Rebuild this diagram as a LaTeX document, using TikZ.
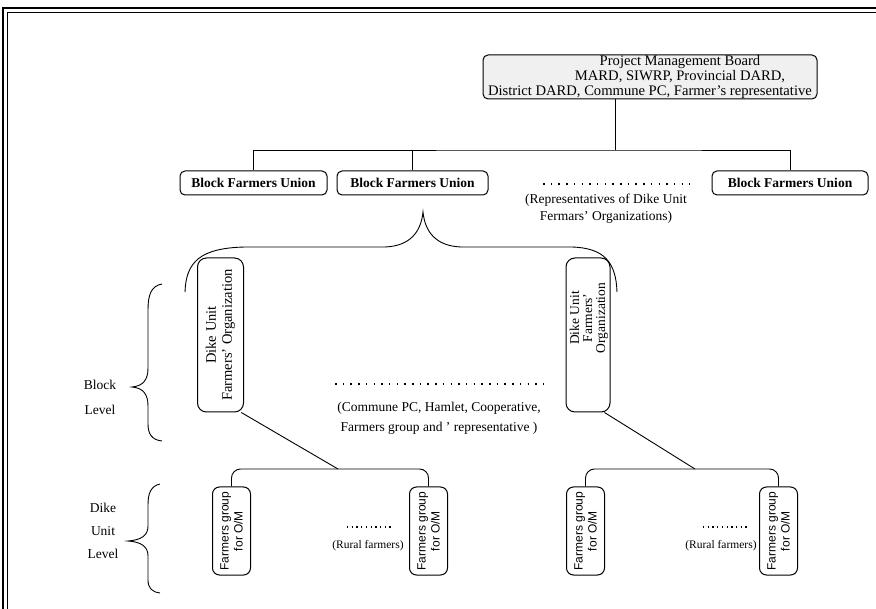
\documentclass[tikz,border=0pt]{standalone}
\usepackage{fontspec}
\setmainfont{Liberation Serif}
\setsansfont{Liberation Sans}
\begin{document}
\begin{tikzpicture}[x=1pt,y=-1pt,line width=0.8pt,
  box/.style={draw,rounded corners=5pt,line width=1pt,inner sep=0pt},
  bfubox/.style={box,minimum height=24pt,font=\fontsize{13.5}{15}\selectfont\bfseries},
  dubox/.style={box,rounded corners=9pt,minimum width=46pt,minimum height=154pt},
  fgbox/.style={box,rounded corners=7pt,minimum width=38pt,minimum height=88pt},
  dutext/.style={rotate=90,align=center,font=\fontsize{14.5}{16}\selectfont},
  fgtext/.style={rotate=90,align=center,font=\sffamily\fontsize{12}{14}\selectfont},
  note/.style={align=center,font=\fontsize{13.5}{17}\selectfont},
  dots/.style={line width=1.5pt,dash pattern=on 1.5pt off 6.2pt},
  sdots/.style={line width=1.3pt,dash pattern=on 1.3pt off 3.4pt},
  link/.style={line width=0.9pt}]
\useasboundingbox (0,0) rectangle (876,609);

% double frame along the top and the left
\draw[line width=1.6pt] (3,609) -- (3,8) -- (876,8);
\draw[line width=0.8pt] (7,609) -- (7,12) -- (876,12);

% board at the top
\node[box,fill=gray!12,minimum width=334pt,minimum height=44pt,
      align=center,font=\fontsize{14.6}{15}\selectfont] (pmb) at (650,77)
  {\hspace*{60pt}Project Management Board\\
   \hspace*{60pt}MARD, SIWRP, Provincial DARD,\\
   District DARD, Commune PC, Farmer's representative};

% block farmers unions
\node[bfubox,minimum width=147pt] (bfu1) at (253.5,183) {Block Farmers Union};
\node[bfubox,minimum width=151pt] (bfu2) at (412.5,183) {Block Farmers Union};
\node[bfubox,minimum width=156pt] (bfu3) at (790,183) {Block Farmers Union};
\coordinate (bus) at (615,150);
\draw[link] (pmb.south -| bus) -- (bus);
\draw[link] (bfu1.north) |- (bus) -| (bfu3.north);
\draw[link] (bfu2.north) -- (bfu2.north |- bus);

% representatives note
\coordinate (repl) at (543,184);
\coordinate (repr) at (690,184);
\draw[dots] (repl) -- (repr);
\node[note] (rep) at (606,209) {(Representatives of Dike Unit\\Fermars' Organizations)};

% brace below the second union
\coordinate (tip) at (423,212);
\draw[link] (185,292) .. controls (186,262) and (200,248) .. (245,247)
  -- (385,247) .. controls (410,246) and (421,232) .. (tip)
  .. controls (425,232) and (436,246) .. (461,247)
  -- (572,247) .. controls (604,248) and (616,262) .. (617,292);

% dike unit organisations
\node[dubox] (du1) at (220.5,335) {};
\node[dutext] (du1t) at (du1) {Dike Unit\\Farmers' Organization};
\node[dubox,minimum width=44pt] (du2) at (588,335) {};
\node[dutext,font=\fontsize{13.5}{13}\selectfont] (du2t) at (589,318)
  {Dike Unit\\Farmers'\\Organization};

% block level note
\coordinate (bdl) at (335,384);
\coordinate (bdr) at (548,384);
\draw[dots] (bdl) -- (bdr);
\node[note,font=\fontsize{13.5}{20}\selectfont] (blk) at (439,418)
  {(Commune PC, Hamlet, Cooperative,\\Farmers group and ' representative )};

% farmers groups
\node[fgbox] (fg1) at (231.5,531) {};
\node[fgbox] (fg2) at (428.5,531) {};
\node[fgbox] (fg3) at (585.5,531) {};
\node[fgbox] (fg4) at (778.5,531) {};
\foreach \g in {1,2,3,4}
  \node[fgtext] (fg\g t) at (fg\g) {Farmers group\\for O/M};

\coordinate (j1) at (338,469);
\coordinate (j2) at (695,469);
\draw[link,rounded corners=9pt] (fg1.north) |- (j1) -| (fg2.north);
\draw[link,rounded corners=9pt] (fg3.north) |- (j2) -| (fg4.north);
\draw[link] (du1.-75) -- (j1);
\draw[link] (du2.-78) -- (j2);

% rural farmers notes
\coordinate (r1l) at (347,527);
\coordinate (r1r) at (392,527);
\draw[sdots] (r1l) -- (r1r);
\node[note,font=\fontsize{11.5}{14}\selectfont] (rf1) at (368,546) {(Rural farmers)};
\coordinate (r2l) at (703,527);
\coordinate (r2r) at (748,527);
\draw[sdots] (r2l) -- (r2r);
\node[note,font=\fontsize{11.5}{14}\selectfont] (rf2) at (721,546) {(Rural farmers)};

% level labels with braces
\node[note,font=\fontsize{13.5}{25}\selectfont] (lvb) at (100,397) {Block\\Level};
\draw[link] (162,284) .. controls (151,286) and (148,295) .. (148,310)
  -- (148,368) .. controls (148,380) and (143,386) .. (132,387)
  .. controls (143,388) and (148,394) .. (148,406)
  -- (148,424) .. controls (148,434) and (152,440) .. (162,441);
\node[note,font=\fontsize{13.5}{23}\selectfont] (lvd) at (103,531) {Dike\\Unit\\Level};
\draw[link] (160,484) .. controls (151,486) and (148,493) .. (148,505)
  -- (148,526) .. controls (148,535) and (142,540) .. (128,541)
  .. controls (142,542) and (148,547) .. (148,556)
  -- (148,580) .. controls (148,588) and (152,592) .. (160,593);
\end{tikzpicture}
\end{document}
